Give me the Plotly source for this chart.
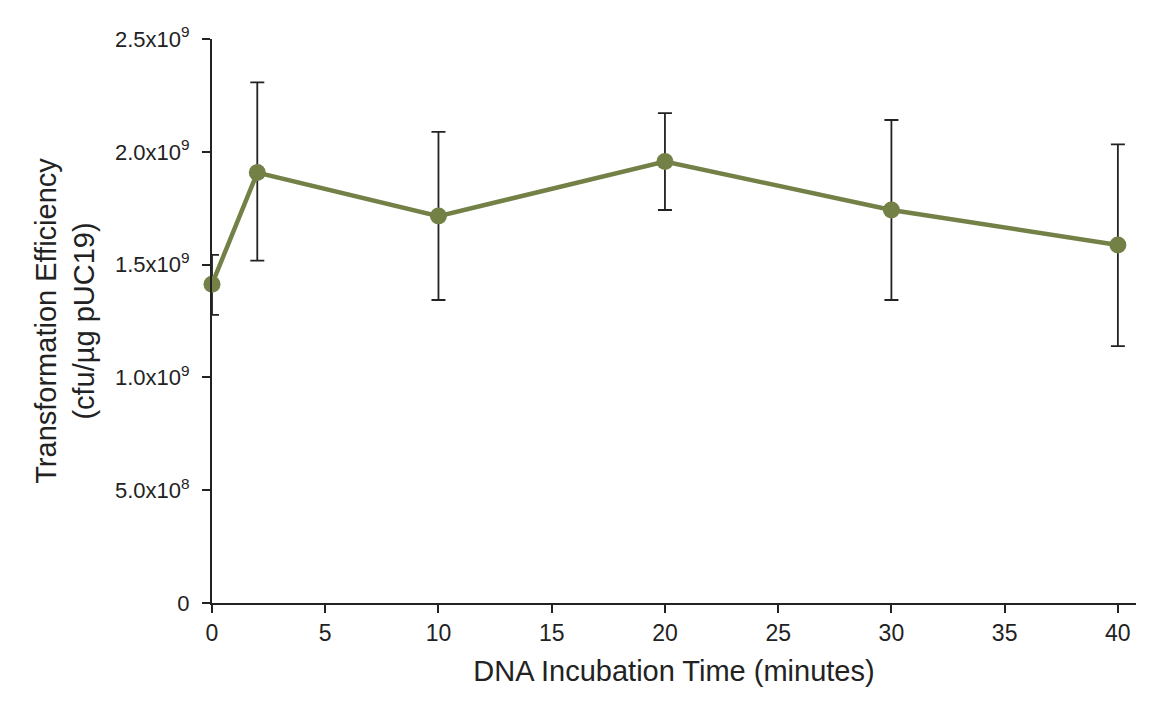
import plotly.graph_objects as go

time_min = [0, 2, 10, 20, 30, 40]
efficiency = [1.413e9, 1.908e9, 1.715e9, 1.957e9, 1.742e9, 1.587e9]
err_plus = [0.130e9, 0.400e9, 0.373e9, 0.214e9, 0.399e9, 0.446e9]
err_minus = [0.136e9, 0.390e9, 0.372e9, 0.215e9, 0.399e9, 0.448e9]

y_tickvals = [0, 0.5e9, 1.0e9, 1.5e9, 2.0e9, 2.5e9]
y_ticktext = ["0", "5.0x10<sup>8</sup>", "1.0x10<sup>9</sup>", "1.5x10<sup>9</sup>",
              "2.0x10<sup>9</sup>", "2.5x10<sup>9</sup>"]
x_tickvals = [0, 5, 10, 15, 20, 25, 30, 35, 40]

green = "#738147"
ink = "#222222"

fig = go.Figure()
fig.add_trace(go.Scatter(
    x=time_min, y=efficiency, mode="lines+markers",
    line=dict(color=green, width=4.5),
    marker=dict(color=green, size=17),
    error_y=dict(type="data", array=err_plus, arrayminus=err_minus, symmetric=False,
                 color=ink, thickness=1.8, width=7),
    cliponaxis=False, showlegend=False,
))

font = "Liberation Sans, Arial, Helvetica, sans-serif"
fig.update_layout(
    width=1164, height=713,
    margin=dict(l=204, r=36, t=31, b=118),
    plot_bgcolor="white", paper_bgcolor="white",
    font=dict(family=font, color=ink, size=22),
    xaxis=dict(range=[0, 40.8], tickvals=x_tickvals, ticks="outside", ticklen=8,
               tickwidth=1.8, tickcolor=ink, showline=True, linecolor=ink,
               linewidth=2, showgrid=False, zeroline=False,
               tickfont=dict(size=23),
               title=dict(text="DNA Incubation Time (minutes)", font=dict(size=29), standoff=16)),
    yaxis=dict(range=[0, 2.5e9], tickvals=y_tickvals, ticktext=y_ticktext, ticks="outside",
               ticklen=8, tickwidth=1.8, tickcolor=ink, showline=True, linecolor=ink,
               linewidth=2, showgrid=False, zeroline=False, ticklabelstandoff=8,
               tickfont=dict(size=22),
               title=dict(text="Transformation Efficiency<br>(cfu/µg pUC19)", font=dict(size=29), standoff=12)),
)

fig.write_html("out.html")
